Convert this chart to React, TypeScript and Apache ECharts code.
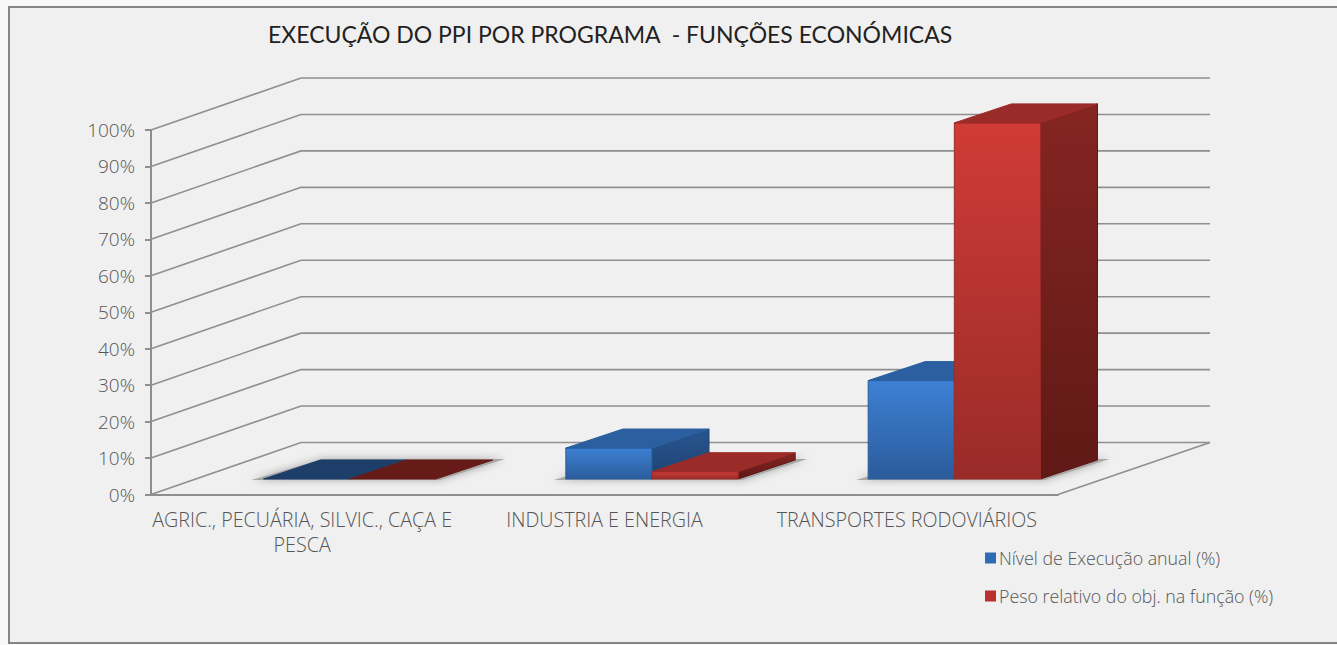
import React, { useEffect, useRef } from "react";
import * as echarts from "echarts";

const categories = ["AGRIC., PECUÁRIA, SILVIC., CAÇA E\nPESCA", "INDUSTRIA E ENERGIA", "TRANSPORTES RODOVIÁRIOS"];
const execucao = [0, 8.5, 27];
const peso = [0, 2, 97.7];
const gridTicks = [0, 10, 20, 30, 40, 50, 60, 70, 80, 90, 100];
const titleText = "EXECUÇÃO DO PPI POR PROGRAMA  - FUNÇÕES ECONÓMICAS";
const serieA = "Nível de Execução anual (%)";
const serieB = "Peso relativo do obj. na função (%)";

const FONT = "Open Sans";
const WALL_DX = 150;
const WALL_DY = -52;
const BAR_DX = 47.5;
const BAR_LIFT = 15.5;
const DEPTH_DX = 57;
const DEPTH_DY = -19;
const BAR_BAND = 0.285;
const GRID = "#8f8f8f";

const grad = (a: string, b: string, x2 = 0, y2 = 1) => new echarts.graphic.LinearGradient(0, 0, x2, y2, [
  { offset: 0, color: a },
  { offset: 1, color: b },
]);

const wallItem = (params: any, api: any) => {
  const cs = params.coordSys;
  const v = api.value(1);
  const y = api.coord([0, v])[1];
  const children: any[] = [{
    type: "polyline",
    shape: { points: [[cs.x, y], [cs.x + WALL_DX, y + WALL_DY], [cs.x + cs.width + WALL_DX + 2, y + WALL_DY]] },
    style: { stroke: GRID, lineWidth: 1.6, fill: "none" },
  }];
  if (v === 0) {
    children.push({
      type: "line",
      shape: { x1: cs.x + cs.width + WALL_DX + 2, y1: y + WALL_DY, x2: cs.x + cs.width, y2: y },
      style: { stroke: GRID, lineWidth: 1.6 },
    });
  }
  return { type: "group", children };
};

const shadowItem = (_params: any, api: any) => {
  const idx = api.value(0);
  const c = api.coord([idx, 0]);
  const bw = api.size([1, 0])[0];
  const left = c[0] + BAR_DX - bw * BAR_BAND;
  const right = c[0] + BAR_DX + bw * BAR_BAND;
  const base = c[1] - BAR_LIFT;
  return {
    type: "polygon",
    shape: { points: [[left - 12, base + 1], [right + 4, base + 1], [right + DEPTH_DX + 12, base + DEPTH_DY - 1], [left + DEPTH_DX + 2, base + DEPTH_DY - 1]] },
    style: { fill: "#a8a8a8", shadowBlur: 8, shadowColor: "#a8a8a8" },
  };
};

const barItem = (side: number, pal: any) => (_params: any, api: any) => {
  const idx = api.value(0);
  const val = api.value(1);
  const c0 = api.coord([idx, 0]);
  const c1 = api.coord([idx, val]);
  const bw = api.size([1, 0])[0];
  const mid = c0[0] + BAR_DX;
  const x0 = side < 0 ? mid - bw * BAR_BAND : mid;
  const x1 = side < 0 ? mid : mid + bw * BAR_BAND;
  const yb = c0[1] - BAR_LIFT;
  const yt = c1[1] - BAR_LIFT;
  const flat = val === 0;
  const edge = (fill: any, stroke: string, points: number[][]) => ({
    type: "polygon",
    shape: { points },
    style: { fill, stroke, lineWidth: 1, lineJoin: "round" },
  });
  const children: any[] = [];
  if (!flat) {
    children.push(edge(grad(pal.side0, pal.side1), pal.side1, [[x1, yt], [x1 + DEPTH_DX, yt + DEPTH_DY], [x1 + DEPTH_DX, yb + DEPTH_DY], [x1, yb]]));
    children.push(edge(grad(pal.front0, pal.front1), pal.front1, [[x0, yt], [x1, yt], [x1, yb], [x0, yb]]));
  }
  const topColor = flat ? pal.flat : pal.top;
  children.push(edge(topColor, topColor, [[x0, yt], [x1, yt], [x1 + DEPTH_DX, yt + DEPTH_DY], [x0 + DEPTH_DX, yt + DEPTH_DY]]));
  return { type: "group", children };
};

const bluePal = { front0: "#3d80d4", front1: "#2b5c9b", top: "#2b5f9f", side0: "#28558f", side1: "#1f4373", flat: "#1c3e68" };
const redPal = { front0: "#d03b37", front1: "#992b28", top: "#9b2b28", side0: "#852522", side1: "#5f1916", flat: "#661b18" };

export default function App() {
  const ref = useRef<HTMLDivElement>(null);
  useEffect(() => {
    document.body.style.margin = "0";
    document.body.style.background = "#f8f8f8";
    const chart = echarts.init(ref.current!, undefined, { renderer: "svg" });
    chart.setOption({
      animation: false,
      backgroundColor: "#f8f8f8",
      title: {
        text: titleText,
        left: 263,
        top: 17,
        textStyle: { fontFamily: "Lato", fontSize: 23, fontWeight: 400, color: "#222222" },
      },
      grid: { left: 151, right: 279, top: 130, bottom: 150.5 },
      xAxis: {
        type: "category",
        data: categories,
        axisLine: { lineStyle: { color: GRID, width: 2 } },
        axisTick: { length: 5, lineStyle: { color: GRID, width: 2 } },
        axisLabel: { fontFamily: FONT, fontWeight: 300, fontSize: 19.7, color: "#555555", margin: 12, lineHeight: 25, interval: 0 },
      },
      yAxis: {
        type: "value",
        min: 0,
        max: 100,
        interval: 10,
        splitLine: { show: false },
        axisLine: { show: true, lineStyle: { color: GRID, width: 2 } },
        axisTick: { show: true, length: 6, lineStyle: { color: GRID, width: 2 } },
        axisLabel: { formatter: "{value}%", fontFamily: FONT, fontWeight: 300, fontSize: 19, color: "#555555", margin: 16 },
      },
      legend: {
        data: [serieA, serieB],
        orient: "vertical",
        left: 980,
        top: 544,
        icon: "rect",
        itemWidth: 11,
        itemHeight: 11,
        itemGap: 20,
        textStyle: { fontFamily: FONT, fontWeight: 300, fontSize: 17.8, color: "#555555", padding: [0, 0, 0, -2], lineHeight: 18 },
      },
      graphic: [{
        type: "rect",
        z: -10,
        silent: true,
        shape: { x: 9, y: 7, width: 1340, height: 636 },
        style: { fill: "#f0f0f0", stroke: "#858585", lineWidth: 2 },
      }],
      series: [
        { type: "custom", name: "grelha", z: 1, silent: true, renderItem: wallItem, encode: { x: 0, y: 1 }, data: gridTicks.map((v) => [0, v]) },
        { type: "custom", name: "sombra", z: 1, silent: true, renderItem: shadowItem, encode: { x: 0, y: 1 }, data: categories.map((_, i) => [i, 0]) },
        { type: "custom", name: serieA, z: 3, renderItem: barItem(-1, bluePal), encode: { x: 0, y: 1 }, itemStyle: { color: "#2f6cb5" }, data: execucao.map((v, i) => [i, v]) },
        { type: "custom", name: serieB, z: 4, renderItem: barItem(1, redPal), encode: { x: 0, y: 1 }, itemStyle: { color: "#b8312e" }, data: peso.map((v, i) => [i, v]) },
      ],
    });
    return () => chart.dispose();
  }, []);
  return <div ref={ref} style={{ position: "absolute", left: 0, top: 0, width: 1337, height: 645 }} />;
}
